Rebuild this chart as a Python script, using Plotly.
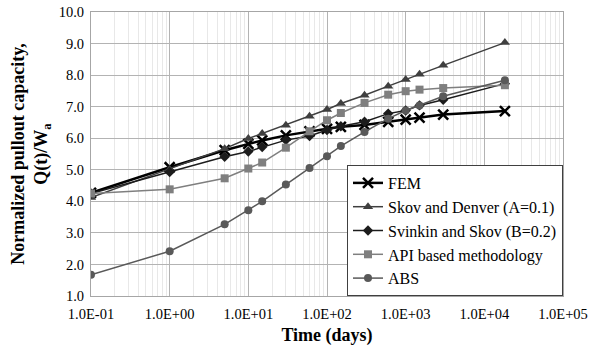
import plotly.graph_objects as go

time_days = [0.1, 1, 5, 10, 15, 30, 60, 100, 150, 300, 600, 1000, 1500, 3000, 18250]

fem = [4.27, 5.08, 5.62, 5.82, 5.93, 6.09, 6.22, 6.30, 6.36, 6.42, 6.52, 6.59, 6.65, 6.75, 6.86]
skov_denver = [4.12, 5.02, 5.67, 5.99, 6.15, 6.41, 6.70, 6.91, 7.10, 7.36, 7.65, 7.86, 8.03, 8.31, 9.03]
svinkin_skov = [4.25, 4.93, 5.41, 5.58, 5.72, 5.94, 6.07, 6.26, 6.38, 6.52, 6.78, 6.88, 7.04, 7.22, 7.73]
api = [4.25, 4.38, 4.73, 5.04, 5.23, 5.70, 6.22, 6.57, 6.80, 7.12, 7.38, 7.49, 7.54, 7.59, 7.68]
abs_vals = [1.67, 2.42, 3.27, 3.72, 4.00, 4.53, 5.06, 5.43, 5.75, 6.20, 6.62, 6.88, 7.04, 7.33, 7.84]

x_tickvals = [0.1, 1, 10, 100, 1000, 10000, 100000]
x_ticktext = ["1.0E-01", "1.0E+00", "1.0E+01", "1.0E+02", "1.0E+03", "1.0E+04", "1.0E+05"]

FONT = "Liberation Serif"

series = [
    ("FEM", fem, "#000000", 2.5, dict(symbol="x-thin-open", size=10, line=dict(width=2.5, color="#000000"))),
    ("Skov and Denver (A=0.1)", skov_denver, "#3f3f3f", 1.5, dict(symbol="triangle-up", size=9)),
    ("Svinkin and Skov (B=0.2)", svinkin_skov, "#1c1c1c", 1.5, dict(symbol="diamond", size=8)),
    ("API based methodology", api, "#7f7f7f", 1.5, dict(symbol="square", size=8)),
    ("ABS", abs_vals, "#595959", 1.5, dict(symbol="circle", size=8)),
]

fig = go.Figure()
for name, vals, color, lw, mk in series:
    mk = dict(mk)
    mk.setdefault("color", color)
    fig.add_trace(go.Scatter(
        x=time_days, y=vals, name=name, mode="lines+markers", legendgroup=name,
        line=dict(color=color, width=lw), marker=mk,
    ))

fig.update_layout(
    width=600, height=355,
    margin=dict(l=91, r=37, t=12, b=59),
    paper_bgcolor="white", plot_bgcolor="white",
    font=dict(family=FONT, size=14, color="#000000"),
    showlegend=True,
    legend=dict(
        x=1, xanchor="right", y=0.0, yanchor="bottom",
        bgcolor="white", bordercolor="#404040", borderwidth=1,
        font=dict(family=FONT, size=16, color="#000000"),
        itemwidth=30, tracegroupgap=0,
    ),
    xaxis=dict(
        type="log", range=[-1, 5], automargin=False,
        tickvals=x_tickvals, ticktext=x_ticktext,
        showgrid=True, gridcolor="#b3b3b3", gridwidth=1,
        minor=dict(showgrid=True, gridcolor="#e8e8e8", gridwidth=1, dtick="D1", ticks=""),
        showline=True, linecolor="#a6a6a6", linewidth=1, mirror=True,
        ticks="outside", ticklen=5, tickcolor="rgba(0,0,0,0)",
        tickfont=dict(family=FONT, size=14.5),
        title=dict(text="<b>Time (days)</b>", font=dict(family=FONT, size=18), standoff=6),
        zeroline=False,
    ),
    yaxis=dict(
        range=[1, 10], dtick=1, tickformat=".1f", automargin=False,
        showgrid=True, gridcolor="#b3b3b3", gridwidth=1,
        showline=True, linecolor="#a6a6a6", linewidth=1, mirror=True,
        ticks="outside", ticklen=3, tickcolor="rgba(0,0,0,0)",
        tickfont=dict(family=FONT, size=14.5),
        title=dict(text="<b>Normalized pullout capacity,<br>Q(t)/W<sub>a</sub></b>",
                   font=dict(family=FONT, size=18), standoff=6),
        zeroline=False,
    ),
)

fig.write_html("out.html", config={"displayModeBar": False},
               post_script="document.body.style.margin='0';document.body.style.padding='0';")
